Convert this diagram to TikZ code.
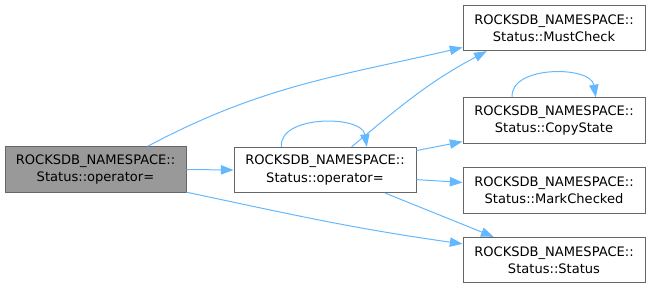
\documentclass[tikz,border=0pt]{standalone}
\usepackage{fontspec}
\setmainfont{DejaVu Sans}
\usepackage{tikz}
\usepackage{xcolor}
\usetikzlibrary{arrows.meta}
\definecolor{edgeblue}{HTML}{63B8FF}
\definecolor{boxline}{HTML}{666666}
\definecolor{rootfill}{HTML}{999999}

\begin{document}
\begin{tikzpicture}[x=0.75pt,y=-0.75pt,
        fn/.style={draw=boxline,fill=white,line width=0.75pt,minimum width=136.5pt,
            minimum height=34pt,inner sep=0pt,align=center,font=\fontsize{9.8}{13}\selectfont},
        call/.style={edgeblue,line width=0.75pt,-{Triangle[length=9.5pt,width=7pt]}}]
        \useasboundingbox (0,0) rectangle (651,287);
        \node[fn,fill=rootfill,minimum width=135.75pt] (root) at (95.5,169.5) {ROCKSDB\_NAMESPACE::\\Status::operator=};
        \node[fn] (op) at (325,170) {ROCKSDB\_NAMESPACE::\\Status::operator=};
        \node[fn] (must) at (554,28) {ROCKSDB\_NAMESPACE::\\Status::MustCheck};
        \node[fn] (copy) at (554,120.5) {ROCKSDB\_NAMESPACE::\\Status::CopyState};
        \node[fn] (mark) at (554,190.5) {ROCKSDB\_NAMESPACE::\\Status::MarkChecked};
        \node[fn] (stat) at (554,260) {ROCKSDB\_NAMESPACE::\\Status::Status};
        \draw[call] (root.24) to[out=28,in=193] (must.192);
        \draw[call] (root.east) -- (op.west);
        \draw[call] (root.-14) to[out=-12,in=172] (stat.170);
        \draw[call] (op.152) .. controls +(-3,-32) and +(-5,-32) .. (op.29);
        \draw[call] (op.41) to[out=40,in=208] (must.199);
        \draw[call] (op.12) -- (copy.193);
        \draw[call] (op.-6) -- (mark.175);
        \draw[call] (op.-21) -- (stat.159);
        \draw[call] (copy.151) .. controls +(-3,-32) and +(-5,-32) .. (copy.29);
\end{tikzpicture}
\end{document}
